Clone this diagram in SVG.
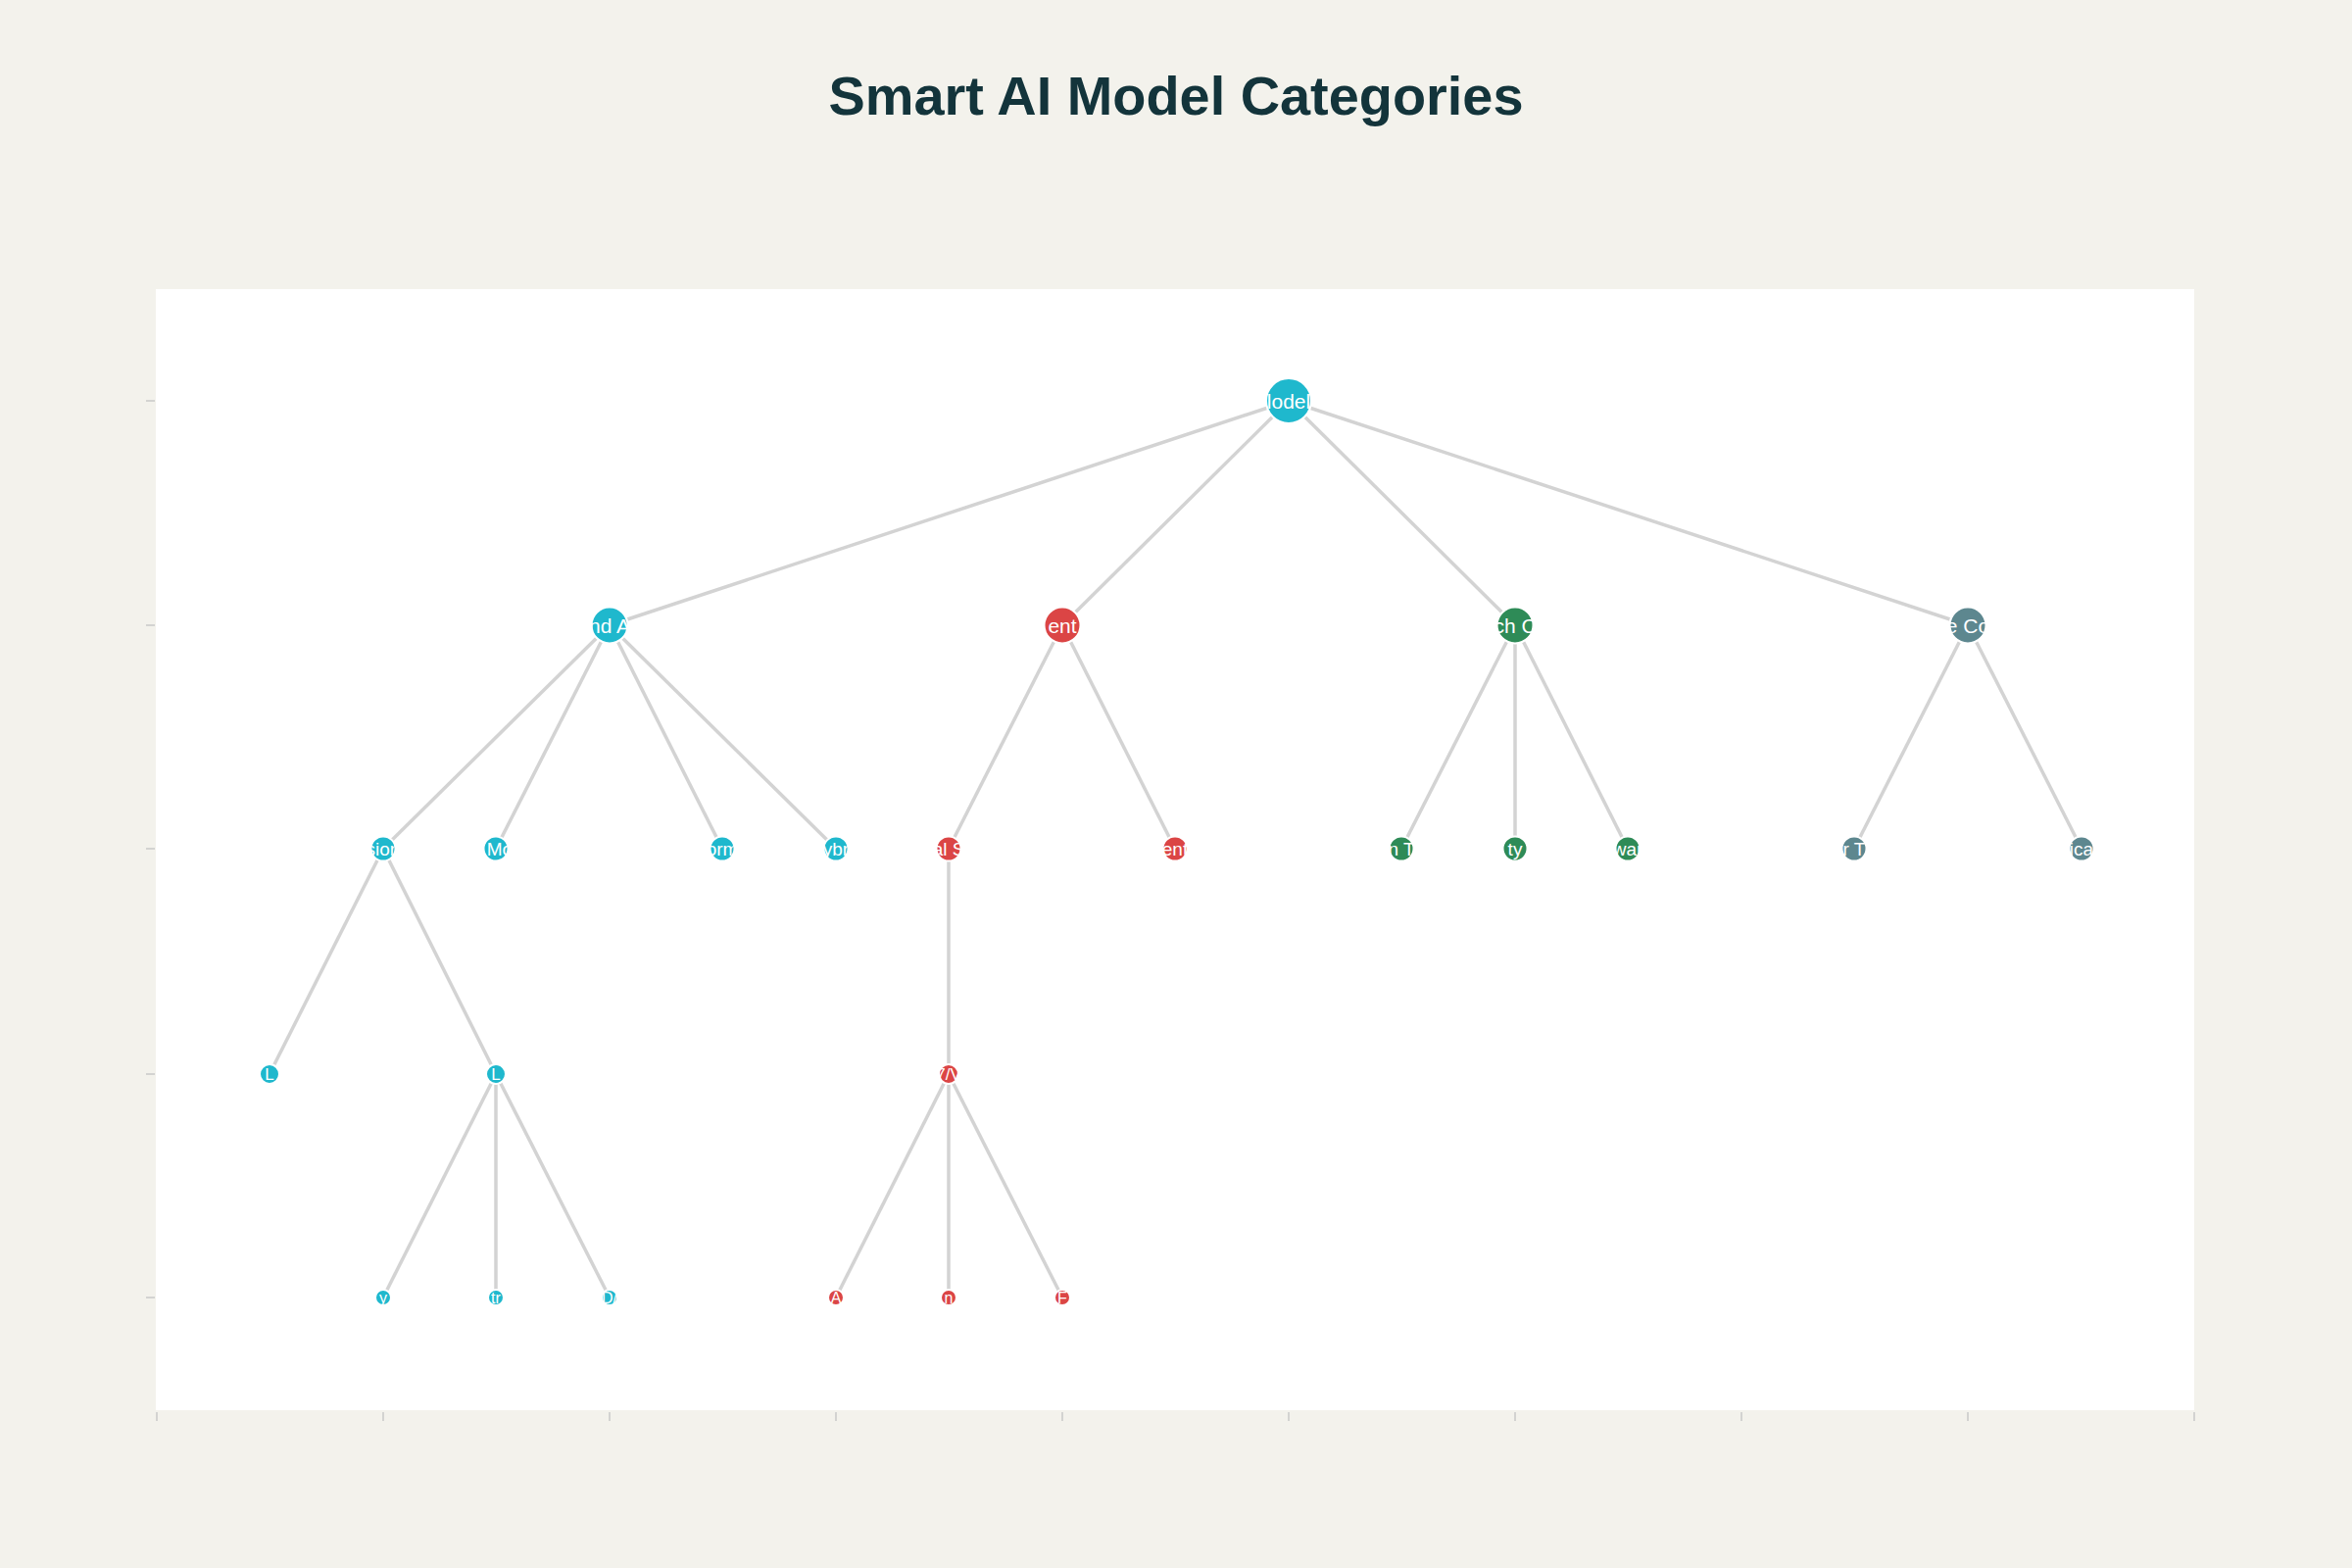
<svg xmlns="http://www.w3.org/2000/svg" width="2400" height="1600" viewBox="0 0 2400 1600">
<defs>
<style>
.edge{stroke:#d3d3d3;stroke-width:3.5;fill:none}
.tick{stroke:#c8c8c8;stroke-width:1.5}
.n circle{stroke:#ffffff;stroke-width:2}
.teal{fill:#1FB8CD}.red{fill:#DB4545}.green{fill:#2E8B57}.slate{fill:#5D878F}
.lb{fill:#ffffff;font-family:"Liberation Sans",Arial,sans-serif;text-anchor:middle;dominant-baseline:central}
.l0{font-size:21px}.l1{font-size:21px}.l2{font-size:19px}.l3{font-size:17px}.l4{font-size:16px}
</style>
<clipPath id="c0"><circle cx="1315" cy="409" r="23"/></clipPath>
<clipPath id="c1a"><circle cx="622" cy="638" r="18.5"/></clipPath>
<clipPath id="c1b"><circle cx="1084" cy="638" r="18.5"/></clipPath>
<clipPath id="c1c"><circle cx="1546" cy="638" r="18.5"/></clipPath>
<clipPath id="c1d"><circle cx="2008" cy="638" r="18.5"/></clipPath>
<clipPath id="c2a"><circle cx="391" cy="866" r="12.5"/></clipPath>
<clipPath id="c2b"><circle cx="506" cy="866" r="12.5"/></clipPath>
<clipPath id="c2c"><circle cx="737" cy="866" r="12.5"/></clipPath>
<clipPath id="c2d"><circle cx="853" cy="866" r="12.5"/></clipPath>
<clipPath id="c2e"><circle cx="968" cy="866" r="12.5"/></clipPath>
<clipPath id="c2f"><circle cx="1199" cy="866" r="12.5"/></clipPath>
<clipPath id="c2g"><circle cx="1430" cy="866" r="12.5"/></clipPath>
<clipPath id="c2h"><circle cx="1546" cy="866" r="12.5"/></clipPath>
<clipPath id="c2i"><circle cx="1661" cy="866" r="12.5"/></clipPath>
<clipPath id="c2j"><circle cx="1892" cy="866" r="12.5"/></clipPath>
<clipPath id="c2k"><circle cx="2124" cy="866" r="12.5"/></clipPath>
<clipPath id="c3a"><circle cx="275" cy="1096" r="10"/></clipPath>
<clipPath id="c3b"><circle cx="506" cy="1096" r="10"/></clipPath>
<clipPath id="c3c"><circle cx="968" cy="1096" r="10"/></clipPath>
<clipPath id="c4a"><circle cx="391" cy="1324" r="8"/></clipPath>
<clipPath id="c4b"><circle cx="506" cy="1324" r="8"/></clipPath>
<clipPath id="c4c"><circle cx="622" cy="1324" r="8"/></clipPath>
<clipPath id="c4d"><circle cx="853" cy="1324" r="8"/></clipPath>
<clipPath id="c4e"><circle cx="968" cy="1324" r="8"/></clipPath>
<clipPath id="c4f"><circle cx="1084" cy="1324" r="8"/></clipPath>
</defs>
<rect x="0" y="0" width="2400" height="1600" fill="#F3F2EC"/>
<rect x="159" y="295" width="2080" height="1144" fill="#ffffff"/>
<text x="1200" y="117" font-family="'Liberation Sans',Arial,sans-serif" font-weight="bold" font-size="56" fill="#13343B" text-anchor="middle" textLength="709" lengthAdjust="spacingAndGlyphs">Smart AI Model Categories</text>
<g id="axes">
<line class="tick" x1="149" y1="409" x2="158" y2="409"/>
<line class="tick" x1="149" y1="638" x2="158" y2="638"/>
<line class="tick" x1="149" y1="866" x2="158" y2="866"/>
<line class="tick" x1="149" y1="1096" x2="158" y2="1096"/>
<line class="tick" x1="149" y1="1324" x2="158" y2="1324"/>
<line class="tick" x1="160" y1="1441" x2="160" y2="1450"/>
<line class="tick" x1="391" y1="1441" x2="391" y2="1450"/>
<line class="tick" x1="622" y1="1441" x2="622" y2="1450"/>
<line class="tick" x1="853" y1="1441" x2="853" y2="1450"/>
<line class="tick" x1="1084" y1="1441" x2="1084" y2="1450"/>
<line class="tick" x1="1315" y1="1441" x2="1315" y2="1450"/>
<line class="tick" x1="1546" y1="1441" x2="1546" y2="1450"/>
<line class="tick" x1="1777" y1="1441" x2="1777" y2="1450"/>
<line class="tick" x1="2008" y1="1441" x2="2008" y2="1450"/>
<line class="tick" x1="2239" y1="1441" x2="2239" y2="1450"/>
</g>
<g id="connectors">
<line class="edge" x1="1315" y1="409" x2="622" y2="638"/>
<line class="edge" x1="1315" y1="409" x2="1084" y2="638"/>
<line class="edge" x1="1315" y1="409" x2="1546" y2="638"/>
<line class="edge" x1="1315" y1="409" x2="2008" y2="638"/>
<line class="edge" x1="622" y1="638" x2="391" y2="866"/>
<line class="edge" x1="622" y1="638" x2="506" y2="866"/>
<line class="edge" x1="622" y1="638" x2="737" y2="866"/>
<line class="edge" x1="622" y1="638" x2="853" y2="866"/>
<line class="edge" x1="1084" y1="638" x2="968" y2="866"/>
<line class="edge" x1="1084" y1="638" x2="1199" y2="866"/>
<line class="edge" x1="1546" y1="638" x2="1430" y2="866"/>
<line class="edge" x1="1546" y1="638" x2="1546" y2="866"/>
<line class="edge" x1="1546" y1="638" x2="1661" y2="866"/>
<line class="edge" x1="2008" y1="638" x2="1892" y2="866"/>
<line class="edge" x1="2008" y1="638" x2="2124" y2="866"/>
<line class="edge" x1="391" y1="866" x2="275" y2="1096"/>
<line class="edge" x1="391" y1="866" x2="506" y2="1096"/>
<line class="edge" x1="968" y1="866" x2="968" y2="1096"/>
<line class="edge" x1="506" y1="1096" x2="391" y2="1324"/>
<line class="edge" x1="506" y1="1096" x2="506" y2="1324"/>
<line class="edge" x1="506" y1="1096" x2="622" y2="1324"/>
<line class="edge" x1="968" y1="1096" x2="853" y2="1324"/>
<line class="edge" x1="968" y1="1096" x2="968" y2="1324"/>
<line class="edge" x1="968" y1="1096" x2="1084" y2="1324"/>
</g>
<g id="root" class="n"><circle class="teal" cx="1315" cy="409" r="23"/><text class="lb l0" x="1315" y="409" clip-path="url(#c0)">lodel</text></g>
<g id="n1a" class="n"><circle class="teal" cx="622" cy="638" r="18.5"/><text class="lb l1" x="622" y="638" clip-path="url(#c1a)">nd A</text></g>
<g id="n1b" class="n"><circle class="red" cx="1084" cy="638" r="18.5"/><text class="lb l1" x="1084" y="638" clip-path="url(#c1b)">ent</text></g>
<g id="n1c" class="n"><circle class="green" cx="1546" cy="638" r="18.5"/><text class="lb l1" x="1546" y="638" clip-path="url(#c1c)">ch C</text></g>
<g id="n1d" class="n"><circle class="slate" cx="2008" cy="638" r="18.5"/><text class="lb l1" x="2008" y="638" clip-path="url(#c1d)">e Co</text></g>
<g id="n2a" class="n"><circle class="teal" cx="391" cy="866" r="12.5"/><text class="lb l2" x="391" y="866" clip-path="url(#c2a)">sion</text></g>
<g id="n2b" class="n"><circle class="teal" cx="506" cy="866" r="12.5"/><text class="lb l2" x="510" y="866" clip-path="url(#c2b)">Mo</text></g>
<g id="n2c" class="n"><circle class="teal" cx="737" cy="866" r="12.5"/><text class="lb l2" x="737" y="866" clip-path="url(#c2c)">orm</text></g>
<g id="n2d" class="n"><circle class="teal" cx="853" cy="866" r="12.5"/><text class="lb l2" x="853" y="866" clip-path="url(#c2d)">ybr</text></g>
<g id="n2e" class="n"><circle class="red" cx="968" cy="866" r="12.5"/><text class="lb l2" x="968" y="866" clip-path="url(#c2e)">al S</text></g>
<g id="n2f" class="n"><circle class="red" cx="1199" cy="866" r="12.5"/><text class="lb l2" x="1199" y="866" clip-path="url(#c2f)">ent</text></g>
<g id="n2g" class="n"><circle class="green" cx="1430" cy="866" r="12.5"/><text class="lb l2" x="1430" y="866" clip-path="url(#c2g)">n T</text></g>
<g id="n2h" class="n"><circle class="green" cx="1546" cy="866" r="12.5"/><text class="lb l2" x="1546" y="866" clip-path="url(#c2h)">ty</text></g>
<g id="n2i" class="n"><circle class="green" cx="1661" cy="866" r="12.5"/><text class="lb l2" x="1661" y="866" clip-path="url(#c2i)">war</text></g>
<g id="n2j" class="n"><circle class="slate" cx="1892" cy="866" r="12.5"/><text class="lb l2" x="1892" y="866" clip-path="url(#c2j)">r T</text></g>
<g id="n2k" class="n"><circle class="slate" cx="2124" cy="866" r="12.5"/><text class="lb l2" x="2124" y="866" clip-path="url(#c2k)">ica</text></g>
<g id="n3a" class="n"><circle class="teal" cx="275" cy="1096" r="10"/><text class="lb l3" x="275" y="1096" clip-path="url(#c3a)">L</text></g>
<g id="n3b" class="n"><circle class="teal" cx="506" cy="1096" r="10"/><text class="lb l3" x="506" y="1096" clip-path="url(#c3b)">L</text></g>
<g id="n3c" class="n"><circle class="red" cx="968" cy="1096" r="10"/><text class="lb l3" x="968" y="1096" clip-path="url(#c3c)">7/V</text></g>
<g id="n4a" class="n"><circle class="teal" cx="391" cy="1324" r="8"/><text class="lb l4" x="391" y="1324" clip-path="url(#c4a)">y</text></g>
<g id="n4b" class="n"><circle class="teal" cx="506" cy="1324" r="8"/><text class="lb l4" x="506" y="1324" clip-path="url(#c4b)">tr</text></g>
<g id="n4c" class="n"><circle class="teal" cx="622" cy="1324" r="8"/><text class="lb l4" x="622" y="1324" clip-path="url(#c4c)">D/</text></g>
<g id="n4d" class="n"><circle class="red" cx="853" cy="1324" r="8"/><text class="lb l4" x="853" y="1324" clip-path="url(#c4d)">A</text></g>
<g id="n4e" class="n"><circle class="red" cx="968" cy="1324" r="8"/><text class="lb l4" x="968" y="1324" clip-path="url(#c4e)">n</text></g>
<g id="n4f" class="n"><circle class="red" cx="1084" cy="1324" r="8"/><text class="lb l4" x="1084" y="1324" clip-path="url(#c4f)">F</text></g>
</svg>
